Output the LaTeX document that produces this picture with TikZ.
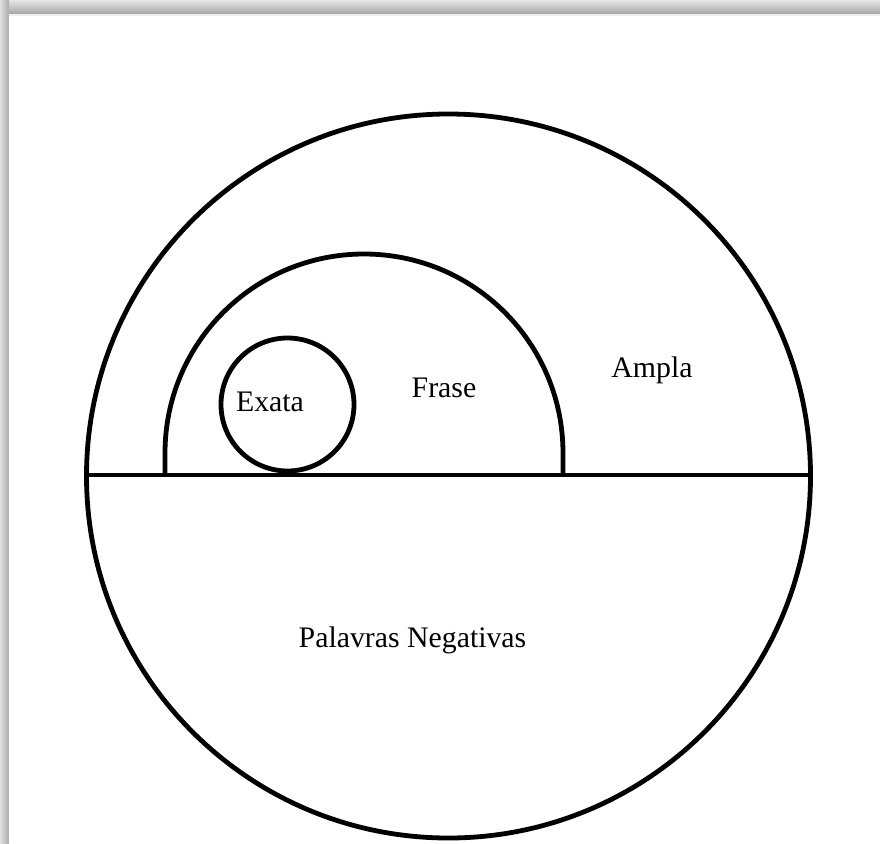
\documentclass[tikz,border=0pt]{standalone}
\usepackage{fontspec}
\setmainfont{Liberation Serif}
\usetikzlibrary{positioning}

\begin{document}
\begin{tikzpicture}[
    x=1pt, y=-1pt,
    outline/.style={draw=black, line width=4.8pt},
    label/.style={inner sep=0pt, anchor=base, font=\fontsize{29.8}{32}\selectfont}
]

    \useasboundingbox (0,0) rectangle (880,843);

    % Sombra da moldura
    \shade[top color=gray!20, bottom color=gray!70] (0,0) rectangle (880,14);
    \shade[left color=gray!25, right color=gray!65] (0,0) rectangle (9,843);
    \fill[gray!12] (9,14) rectangle (880,16);
    \fill[white] (9,16) rectangle (880,843);

    % Circulo externo e linha divisoria
    \draw[outline] (448.5,476) circle[radius=362];
    \draw[outline] (86.5,475) -- (810.5,475);

    % Arco da frase
    \draw[outline] (165,475) -- (165,453) arc[start angle=180, end angle=360, radius=199] -- (563,475);

    % Circulo da busca exata
    \draw[outline] (287.5,404.5) circle[radius=66.5];

    % Rotulos
    \node[label] (exata) at (270,411) {Exata};
    \node[label] (frase) at (444,397) {Frase};
    \node[label] (ampla) at (652,377) {Ampla};
    \node[label] (negativas) at (412.5,647) {Palavras Negativas};

\end{tikzpicture}
\end{document}
